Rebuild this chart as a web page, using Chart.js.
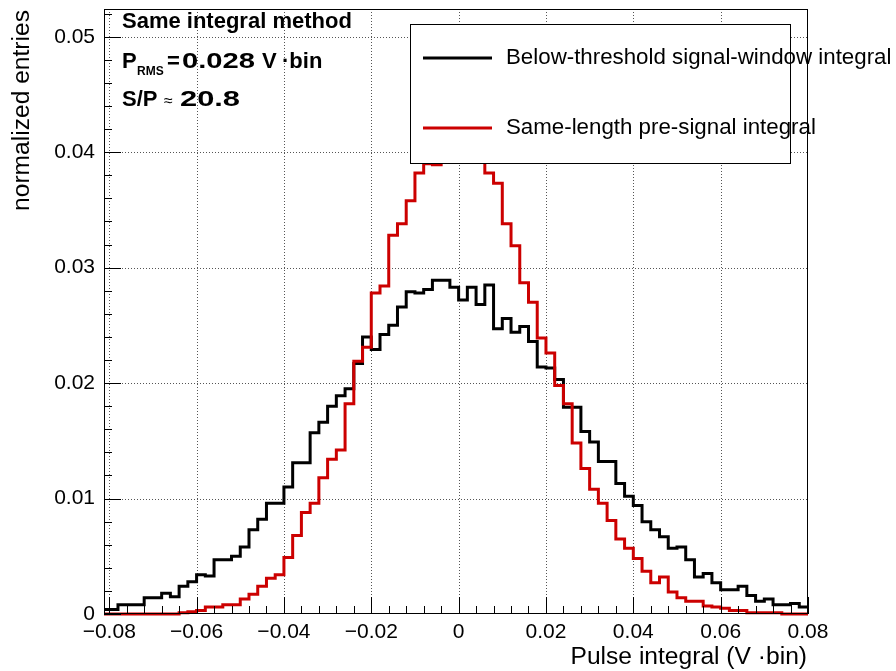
<!DOCTYPE html>
<html>
<head>
<meta charset="utf-8">
<title>Same integral method</title>
<script src="https://cdn.jsdelivr.net/npm/chart.js@4.4.1/dist/chart.umd.min.js"></script>
<style>
  html, body { margin: 0; padding: 0; background: #fff; }
  #wrap { width: 896px; height: 671px; }
</style>
</head>
<body>
<div id="wrap"><canvas id="chart" width="896" height="671"></canvas></div>
<script>
(function () {
  "use strict";

  // histogram binning: 80 bins of 0.002 V·bin starting at -0.08
  var BIN_LOW = -0.08;
  var BIN_WIDTH = 0.002;

  var X_MIN = -0.0812;
  var X_MAX = 0.08;
  var Y_MAX = 0.0524;

  var X_TICKS = [-0.08, -0.06, -0.04, -0.02, 0, 0.02, 0.04, 0.06, 0.08];
  var Y_TICKS = [0, 0.01, 0.02, 0.03, 0.04, 0.05];

  var SERIES_NAMES = [
    "Below-threshold signal-window integral",
    "Same-length pre-signal integral",
  ];

  // normalized entries per bin
  var SIGNAL_WINDOW = [
    0.0004, 0.0008, 0.0008, 0.0008, 0.0014, 0.0014, 0.0018, 0.0015, 0.0024, 0.0028,
    0.0034, 0.0033, 0.0047, 0.0047, 0.0050, 0.0058, 0.0073, 0.0082, 0.0096, 0.0096,
    0.0110, 0.0131, 0.0131, 0.0157, 0.0166, 0.0180, 0.0189, 0.0195, 0.0217, 0.0240,
    0.0229, 0.0242, 0.0250, 0.0266, 0.0279, 0.0278, 0.0281, 0.0289, 0.0289, 0.0283,
    0.0272, 0.0283, 0.0268, 0.0285, 0.0247, 0.0256, 0.0244, 0.0249, 0.0236, 0.0214,
    0.0213, 0.0203, 0.0179, 0.0179, 0.0158, 0.0149, 0.0132, 0.0132, 0.0113, 0.0102,
    0.0094, 0.0080, 0.0073, 0.0067, 0.0057, 0.0058, 0.0047, 0.0032, 0.0035, 0.0027,
    0.0021, 0.0021, 0.0024, 0.0016, 0.0011, 0.0013, 0.0008, 0.0008, 0.0009, 0.0006,
  ];

  var PRE_SIGNAL = [
    0.0000, 0.0000, 0.0000, 0.0000, 0.0000, 0.0000, 0.0000, 0.0000, 0.0001, 0.0002,
    0.0003, 0.0006, 0.0006, 0.0008, 0.0008, 0.0013, 0.0017, 0.0024, 0.0031, 0.0034,
    0.0049, 0.0068, 0.0088, 0.0096, 0.0118, 0.0134, 0.0142, 0.0182, 0.0219, 0.0231,
    0.0278, 0.0284, 0.0328, 0.0338, 0.0358, 0.0382, 0.0390, 0.0389, 0.0400, 0.0412,
    0.0418, 0.0414, 0.0404, 0.0382, 0.0373, 0.0338, 0.0319, 0.0287, 0.0270, 0.0239,
    0.0226, 0.0198, 0.0182, 0.0148, 0.0126, 0.0108, 0.0096, 0.0081, 0.0065, 0.0057,
    0.0048, 0.0037, 0.0027, 0.0032, 0.0019, 0.0014, 0.0011, 0.0011, 0.0007, 0.0006,
    0.0005, 0.0003, 0.0003, 0.0001, 0.0001, 0.0001, 0.0001, 0.0000, 0.0000, 0.0000,
  ];

  var COLORS = { signal: "#000000", pre: "#cc0000", grid: "#555555", text: "#000000" };
  var FONT = '"Liberation Sans", Arial, Helvetica, sans-serif';

  // outline points: one at each bin's low edge, plus the closing upper edge
  function histPoints(values) {
    var pts = [{ x: X_MIN, y: values[0] }];
    values.forEach(function (v, i) {
      pts.push({ x: BIN_LOW + i * BIN_WIDTH, y: v });
    });
    pts.push({ x: BIN_LOW + values.length * BIN_WIDTH, y: values[values.length - 1] });
    return pts;
  }

  function fmtTick(v) {
    if (Math.abs(v) < 1e-9) return "0";
    return (v < 0 ? "\u2212" : "") + Math.abs(v).toFixed(2);
  }

  function minorValues(majors, max) {
    var out = [];
    var step = majors[1] - majors[0];
    for (var i = 0; i < majors.length; i++) {
      for (var k = 1; k < 5; k++) {
        var v = majors[i] + (k * step) / 5;
        if (v <= max + 1e-9) out.push(v);
      }
    }
    return out;
  }

  function line(ctx, x1, y1, x2, y2) {
    ctx.beginPath();
    ctx.moveTo(x1, y1);
    ctx.lineTo(x2, y2);
    ctx.stroke();
  }

  // numbers in the annotation are set wide, so squeeze/stretch them to a width
  function fitText(ctx, text, x, y, width) {
    var w = ctx.measureText(text).width;
    ctx.save();
    ctx.translate(x, y);
    ctx.scale(width / w, 1);
    ctx.fillText(text, 0, 0);
    ctx.restore();
  }

  // dotted grid under the histograms
  var gridPlugin = {
    id: "rootGrid",
    beforeDatasetsDraw: function (chart) {
      var ctx = chart.ctx, a = chart.chartArea;
      var x = chart.scales.x, y = chart.scales.y;
      ctx.save();
      ctx.strokeStyle = COLORS.grid;
      ctx.lineWidth = 1;
      ctx.setLineDash([1, 2]);
      X_TICKS.forEach(function (v) {
        var px = Math.round(x.getPixelForValue(v)) + 0.5;
        if (px > a.left + 1 && px < a.right - 1) line(ctx, px, a.top, px, a.bottom);
      });
      Y_TICKS.forEach(function (v) {
        var py = Math.round(y.getPixelForValue(v)) + 0.5;
        if (py > a.top + 1 && py < a.bottom - 1) line(ctx, a.left, py, a.right, py);
      });
      ctx.restore();
    },
  };

  // frame, inward ticks, legend box and annotations on top
  var decorPlugin = {
    id: "rootDecor",
    afterDatasetsDraw: function (chart) {
      var ctx = chart.ctx, a = chart.chartArea;
      var x = chart.scales.x, y = chart.scales.y;
      ctx.save();
      ctx.setLineDash([]);
      ctx.strokeStyle = "#000";
      ctx.lineWidth = 1;
      ctx.strokeRect(a.left + 0.5, a.top + 0.5, a.right - a.left - 1, a.bottom - a.top - 1);

      X_TICKS.forEach(function (v) {
        var px = Math.round(x.getPixelForValue(v)) + 0.5;
        line(ctx, px, a.bottom, px, a.bottom - 17);
      });
      minorValues(X_TICKS, X_MAX).forEach(function (v) {
        var px = Math.round(x.getPixelForValue(v)) + 0.5;
        line(ctx, px, a.bottom, px, a.bottom - 8);
      });
      Y_TICKS.forEach(function (v) {
        var py = Math.round(y.getPixelForValue(v)) + 0.5;
        line(ctx, a.left, py, a.left + 17, py);
      });
      minorValues(Y_TICKS, Y_MAX).forEach(function (v) {
        var py = Math.round(y.getPixelForValue(v)) + 0.5;
        line(ctx, a.left, py, a.left + 8, py);
      });

      // legend
      ctx.fillStyle = "#fff";
      ctx.fillRect(410, 24, 380, 139);
      ctx.strokeRect(410.5, 24.5, 380, 139);
      ctx.lineWidth = 3;
      ctx.strokeStyle = COLORS.signal;
      line(ctx, 423, 58, 492, 58);
      ctx.strokeStyle = COLORS.pre;
      line(ctx, 423, 128, 492, 128);
      ctx.fillStyle = COLORS.text;
      ctx.font = "22.3px " + FONT;
      ctx.textBaseline = "middle";
      ctx.textAlign = "left";
      ctx.fillText(SERIES_NAMES[0], 506, 58);
      ctx.fillText(SERIES_NAMES[1], 506, 128);

      // annotation block
      ctx.textBaseline = "alphabetic";
      ctx.font = "bold 22px " + FONT;
      ctx.fillText("Same integral method", 122, 28);
      ctx.fillText("P", 122, 68);
      ctx.fillText("=", 167, 68);
      fitText(ctx, "0.028", 182, 68, 73);
      ctx.fillText("V", 262, 68);
      ctx.fillText("\u00b7bin", 282, 68);
      ctx.font = "bold 12px " + FONT;
      ctx.fillText("RMS", 137, 75);
      ctx.font = "bold 22px " + FONT;
      ctx.fillText("S/P", 122, 106);
      fitText(ctx, "20.8", 180, 106, 60);
      ctx.font = "16px " + FONT;
      ctx.fillText("\u2248", 164, 106);

      // axis titles
      ctx.font = "24.6px " + FONT;
      ctx.textAlign = "right";
      ctx.textBaseline = "middle";
      ctx.fillText("Pulse integral (V \u00b7bin)", 807, 657);
      ctx.translate(22, 10);
      ctx.rotate(-Math.PI / 2);
      ctx.fillText("normalized entries", 0, 0);
      ctx.restore();
    },
  };

  Chart.defaults.font.family = FONT;
  Chart.defaults.color = COLORS.text;

  new Chart(document.getElementById("chart"), {
    type: "line",
    data: {
      datasets: [
        {
          label: SERIES_NAMES[0],
          data: histPoints(SIGNAL_WINDOW),
          borderColor: COLORS.signal,
          borderWidth: 3,
          stepped: true,
          pointRadius: 0,
          fill: false,
          clip: false,
          order: 1,
        },
        {
          label: SERIES_NAMES[1],
          data: histPoints(PRE_SIGNAL),
          borderColor: COLORS.pre,
          borderWidth: 3,
          stepped: true,
          pointRadius: 0,
          fill: false,
          clip: false,
          order: 0,
        },
      ],
    },
    options: {
      responsive: false,
      animation: false,
      devicePixelRatio: 1,
      layout: { padding: { left: 0, right: 88, top: 9, bottom: 0 } },
      plugins: { legend: { display: false }, tooltip: { enabled: false } },
      scales: {
        x: {
          type: "linear",
          min: X_MIN,
          max: X_MAX,
          grid: { display: false, drawTicks: false },
          border: { display: false },
          ticks: {
            font: { size: 21 },
            padding: 6,
            maxRotation: 0,
            autoSkip: false,
            includeBounds: false,
            callback: fmtTick,
          },
          afterBuildTicks: function (s) {
            s.ticks = X_TICKS.map(function (v) { return { value: v }; });
          },
          afterFit: function (s) {
            s.height = 57;
            s.paddingLeft = 0;
            s.paddingRight = 0;
          },
        },
        y: {
          type: "linear",
          min: 0,
          max: Y_MAX,
          grid: { display: false, drawTicks: false },
          border: { display: false },
          ticks: {
            font: { size: 21 },
            padding: 9,
            autoSkip: false,
            includeBounds: false,
            callback: fmtTick,
          },
          afterBuildTicks: function (s) {
            s.ticks = Y_TICKS.map(function (v) { return { value: v }; });
          },
          afterFit: function (s) {
            s.width = 104;
            s.paddingTop = 0;
            s.paddingBottom = 0;
          },
        },
      },
    },
    plugins: [gridPlugin, decorPlugin],
  });
})();
</script>
</body>
</html>
